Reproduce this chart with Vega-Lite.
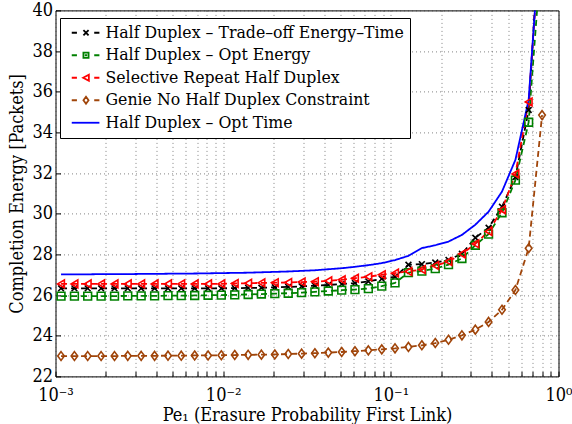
{
  "$schema": "https://vega.github.io/schema/vega-lite/v6.json",
  "width": 503,
  "height": 366,
  "autosize": {"type": "none"},
  "padding": {"left": 55.5, "top": 10.4, "right": 13.5, "bottom": 47.6},
  "background": "white",
  "datasets": {
    "curves": [
      {"pe":0.001079,"energy":26.33,"scheme":"Half Duplex – Trade–off Energy–Time"},
      {"pe":0.001297,"energy":26.33,"scheme":"Half Duplex – Trade–off Energy–Time"},
      {"pe":0.001556,"energy":26.33,"scheme":"Half Duplex – Trade–off Energy–Time"},
      {"pe":0.001871,"energy":26.33,"scheme":"Half Duplex – Trade–off Energy–Time"},
      {"pe":0.002249,"energy":26.33,"scheme":"Half Duplex – Trade–off Energy–Time"},
      {"pe":0.002698,"energy":26.33,"scheme":"Half Duplex – Trade–off Energy–Time"},
      {"pe":0.003243,"energy":26.33,"scheme":"Half Duplex – Trade–off Energy–Time"},
      {"pe":0.003899,"energy":26.33,"scheme":"Half Duplex – Trade–off Energy–Time"},
      {"pe":0.004688,"energy":26.33,"scheme":"Half Duplex – Trade–off Energy–Time"},
      {"pe":0.005623,"energy":26.33,"scheme":"Half Duplex – Trade–off Energy–Time"},
      {"pe":0.006761,"energy":26.33,"scheme":"Half Duplex – Trade–off Energy–Time"},
      {"pe":0.008128,"energy":26.33,"scheme":"Half Duplex – Trade–off Energy–Time"},
      {"pe":0.00975,"energy":26.33,"scheme":"Half Duplex – Trade–off Energy–Time"},
      {"pe":0.011722,"energy":26.34,"scheme":"Half Duplex – Trade–off Energy–Time"},
      {"pe":0.014093,"energy":26.35,"scheme":"Half Duplex – Trade–off Energy–Time"},
      {"pe":0.016904,"energy":26.36,"scheme":"Half Duplex – Trade–off Energy–Time"},
      {"pe":0.020324,"energy":26.38,"scheme":"Half Duplex – Trade–off Energy–Time"},
      {"pe":0.024434,"energy":26.4,"scheme":"Half Duplex – Trade–off Energy–Time"},
      {"pe":0.029376,"energy":26.43,"scheme":"Half Duplex – Trade–off Energy–Time"},
      {"pe":0.035237,"energy":26.46,"scheme":"Half Duplex – Trade–off Energy–Time"},
      {"pe":0.042364,"energy":26.5,"scheme":"Half Duplex – Trade–off Energy–Time"},
      {"pe":0.050933,"energy":26.54,"scheme":"Half Duplex – Trade–off Energy–Time"},
      {"pe":0.061094,"energy":26.59,"scheme":"Half Duplex – Trade–off Energy–Time"},
      {"pe":0.073451,"energy":26.67,"scheme":"Half Duplex – Trade–off Energy–Time"},
      {"pe":0.088308,"energy":26.8,"scheme":"Half Duplex – Trade–off Energy–Time"},
      {"pe":0.105925,"energy":26.9,"scheme":"Half Duplex – Trade–off Energy–Time"},
      {"pe":0.12735,"energy":27.49,"scheme":"Half Duplex – Trade–off Energy–Time"},
      {"pe":0.153109,"energy":27.52,"scheme":"Half Duplex – Trade–off Energy–Time"},
      {"pe":0.184077,"energy":27.6,"scheme":"Half Duplex – Trade–off Energy–Time"},
      {"pe":0.2208,"energy":27.73,"scheme":"Half Duplex – Trade–off Energy–Time"},
      {"pe":0.265461,"energy":28.03,"scheme":"Half Duplex – Trade–off Energy–Time"},
      {"pe":0.319154,"energy":28.82,"scheme":"Half Duplex – Trade–off Energy–Time"},
      {"pe":0.382825,"energy":29.31,"scheme":"Half Duplex – Trade–off Energy–Time"},
      {"pe":0.460257,"energy":30.34,"scheme":"Half Duplex – Trade–off Energy–Time"},
      {"pe":0.55335,"energy":31.8,"scheme":"Half Duplex – Trade–off Energy–Time"},
      {"pe":0.663743,"energy":35.1,"scheme":"Half Duplex – Trade–off Energy–Time"},
      {"pe":0.797995,"energy":46,"scheme":"Half Duplex – Trade–off Energy–Time"},

      {"pe":0.001079,"energy":25.95,"scheme":"Half Duplex – Opt Energy"},
      {"pe":0.001297,"energy":25.95,"scheme":"Half Duplex – Opt Energy"},
      {"pe":0.001556,"energy":25.95,"scheme":"Half Duplex – Opt Energy"},
      {"pe":0.001871,"energy":25.95,"scheme":"Half Duplex – Opt Energy"},
      {"pe":0.002249,"energy":25.95,"scheme":"Half Duplex – Opt Energy"},
      {"pe":0.002698,"energy":25.96,"scheme":"Half Duplex – Opt Energy"},
      {"pe":0.003243,"energy":25.96,"scheme":"Half Duplex – Opt Energy"},
      {"pe":0.003899,"energy":25.96,"scheme":"Half Duplex – Opt Energy"},
      {"pe":0.004688,"energy":25.97,"scheme":"Half Duplex – Opt Energy"},
      {"pe":0.005623,"energy":25.97,"scheme":"Half Duplex – Opt Energy"},
      {"pe":0.006761,"energy":25.98,"scheme":"Half Duplex – Opt Energy"},
      {"pe":0.008128,"energy":25.99,"scheme":"Half Duplex – Opt Energy"},
      {"pe":0.00975,"energy":26.0,"scheme":"Half Duplex – Opt Energy"},
      {"pe":0.011722,"energy":26.01,"scheme":"Half Duplex – Opt Energy"},
      {"pe":0.014093,"energy":26.03,"scheme":"Half Duplex – Opt Energy"},
      {"pe":0.016904,"energy":26.05,"scheme":"Half Duplex – Opt Energy"},
      {"pe":0.020324,"energy":26.07,"scheme":"Half Duplex – Opt Energy"},
      {"pe":0.024434,"energy":26.09,"scheme":"Half Duplex – Opt Energy"},
      {"pe":0.029376,"energy":26.12,"scheme":"Half Duplex – Opt Energy"},
      {"pe":0.035237,"energy":26.16,"scheme":"Half Duplex – Opt Energy"},
      {"pe":0.042364,"energy":26.2,"scheme":"Half Duplex – Opt Energy"},
      {"pe":0.050933,"energy":26.24,"scheme":"Half Duplex – Opt Energy"},
      {"pe":0.061094,"energy":26.27,"scheme":"Half Duplex – Opt Energy"},
      {"pe":0.073451,"energy":26.32,"scheme":"Half Duplex – Opt Energy"},
      {"pe":0.088308,"energy":26.44,"scheme":"Half Duplex – Opt Energy"},
      {"pe":0.105925,"energy":26.6,"scheme":"Half Duplex – Opt Energy"},
      {"pe":0.12735,"energy":27.1,"scheme":"Half Duplex – Opt Energy"},
      {"pe":0.153109,"energy":27.18,"scheme":"Half Duplex – Opt Energy"},
      {"pe":0.184077,"energy":27.3,"scheme":"Half Duplex – Opt Energy"},
      {"pe":0.2208,"energy":27.5,"scheme":"Half Duplex – Opt Energy"},
      {"pe":0.265461,"energy":27.8,"scheme":"Half Duplex – Opt Energy"},
      {"pe":0.319154,"energy":28.45,"scheme":"Half Duplex – Opt Energy"},
      {"pe":0.382825,"energy":29.0,"scheme":"Half Duplex – Opt Energy"},
      {"pe":0.460257,"energy":30.05,"scheme":"Half Duplex – Opt Energy"},
      {"pe":0.55335,"energy":31.65,"scheme":"Half Duplex – Opt Energy"},
      {"pe":0.663743,"energy":34.5,"scheme":"Half Duplex – Opt Energy"},
      {"pe":0.797995,"energy":43.3,"scheme":"Half Duplex – Opt Energy"},

      {"pe":0.001079,"energy":26.55,"scheme":"Selective Repeat Half Duplex"},
      {"pe":0.001297,"energy":26.55,"scheme":"Selective Repeat Half Duplex"},
      {"pe":0.001556,"energy":26.55,"scheme":"Selective Repeat Half Duplex"},
      {"pe":0.001871,"energy":26.55,"scheme":"Selective Repeat Half Duplex"},
      {"pe":0.002249,"energy":26.55,"scheme":"Selective Repeat Half Duplex"},
      {"pe":0.002698,"energy":26.55,"scheme":"Selective Repeat Half Duplex"},
      {"pe":0.003243,"energy":26.55,"scheme":"Selective Repeat Half Duplex"},
      {"pe":0.003899,"energy":26.55,"scheme":"Selective Repeat Half Duplex"},
      {"pe":0.004688,"energy":26.55,"scheme":"Selective Repeat Half Duplex"},
      {"pe":0.005623,"energy":26.55,"scheme":"Selective Repeat Half Duplex"},
      {"pe":0.006761,"energy":26.55,"scheme":"Selective Repeat Half Duplex"},
      {"pe":0.008128,"energy":26.55,"scheme":"Selective Repeat Half Duplex"},
      {"pe":0.00975,"energy":26.55,"scheme":"Selective Repeat Half Duplex"},
      {"pe":0.011722,"energy":26.57,"scheme":"Selective Repeat Half Duplex"},
      {"pe":0.014093,"energy":26.58,"scheme":"Selective Repeat Half Duplex"},
      {"pe":0.016904,"energy":26.6,"scheme":"Selective Repeat Half Duplex"},
      {"pe":0.020324,"energy":26.61,"scheme":"Selective Repeat Half Duplex"},
      {"pe":0.024434,"energy":26.62,"scheme":"Selective Repeat Half Duplex"},
      {"pe":0.029376,"energy":26.64,"scheme":"Selective Repeat Half Duplex"},
      {"pe":0.035237,"energy":26.66,"scheme":"Selective Repeat Half Duplex"},
      {"pe":0.042364,"energy":26.7,"scheme":"Selective Repeat Half Duplex"},
      {"pe":0.050933,"energy":26.75,"scheme":"Selective Repeat Half Duplex"},
      {"pe":0.061094,"energy":26.83,"scheme":"Selective Repeat Half Duplex"},
      {"pe":0.073451,"energy":26.9,"scheme":"Selective Repeat Half Duplex"},
      {"pe":0.088308,"energy":27.0,"scheme":"Selective Repeat Half Duplex"},
      {"pe":0.105925,"energy":27.08,"scheme":"Selective Repeat Half Duplex"},
      {"pe":0.12735,"energy":27.16,"scheme":"Selective Repeat Half Duplex"},
      {"pe":0.153109,"energy":27.26,"scheme":"Selective Repeat Half Duplex"},
      {"pe":0.184077,"energy":27.45,"scheme":"Selective Repeat Half Duplex"},
      {"pe":0.2208,"energy":27.65,"scheme":"Selective Repeat Half Duplex"},
      {"pe":0.265461,"energy":28.02,"scheme":"Selective Repeat Half Duplex"},
      {"pe":0.319154,"energy":28.52,"scheme":"Selective Repeat Half Duplex"},
      {"pe":0.382825,"energy":29.13,"scheme":"Selective Repeat Half Duplex"},
      {"pe":0.460257,"energy":30.2,"scheme":"Selective Repeat Half Duplex"},
      {"pe":0.55335,"energy":31.96,"scheme":"Selective Repeat Half Duplex"},
      {"pe":0.663743,"energy":35.5,"scheme":"Selective Repeat Half Duplex"},
      {"pe":0.797995,"energy":45,"scheme":"Selective Repeat Half Duplex"},

      {"pe":0.001079,"energy":23.0,"scheme":"Genie No Half Duplex Constraint"},
      {"pe":0.001297,"energy":23.0,"scheme":"Genie No Half Duplex Constraint"},
      {"pe":0.001556,"energy":23.0,"scheme":"Genie No Half Duplex Constraint"},
      {"pe":0.001871,"energy":23.0,"scheme":"Genie No Half Duplex Constraint"},
      {"pe":0.002249,"energy":23.0,"scheme":"Genie No Half Duplex Constraint"},
      {"pe":0.002698,"energy":23.01,"scheme":"Genie No Half Duplex Constraint"},
      {"pe":0.003243,"energy":23.01,"scheme":"Genie No Half Duplex Constraint"},
      {"pe":0.003899,"energy":23.01,"scheme":"Genie No Half Duplex Constraint"},
      {"pe":0.004688,"energy":23.02,"scheme":"Genie No Half Duplex Constraint"},
      {"pe":0.005623,"energy":23.02,"scheme":"Genie No Half Duplex Constraint"},
      {"pe":0.006761,"energy":23.03,"scheme":"Genie No Half Duplex Constraint"},
      {"pe":0.008128,"energy":23.03,"scheme":"Genie No Half Duplex Constraint"},
      {"pe":0.00975,"energy":23.04,"scheme":"Genie No Half Duplex Constraint"},
      {"pe":0.011722,"energy":23.05,"scheme":"Genie No Half Duplex Constraint"},
      {"pe":0.014093,"energy":23.06,"scheme":"Genie No Half Duplex Constraint"},
      {"pe":0.016904,"energy":23.07,"scheme":"Genie No Half Duplex Constraint"},
      {"pe":0.020324,"energy":23.08,"scheme":"Genie No Half Duplex Constraint"},
      {"pe":0.024434,"energy":23.1,"scheme":"Genie No Half Duplex Constraint"},
      {"pe":0.029376,"energy":23.12,"scheme":"Genie No Half Duplex Constraint"},
      {"pe":0.035237,"energy":23.14,"scheme":"Genie No Half Duplex Constraint"},
      {"pe":0.042364,"energy":23.17,"scheme":"Genie No Half Duplex Constraint"},
      {"pe":0.050933,"energy":23.2,"scheme":"Genie No Half Duplex Constraint"},
      {"pe":0.061094,"energy":23.24,"scheme":"Genie No Half Duplex Constraint"},
      {"pe":0.073451,"energy":23.28,"scheme":"Genie No Half Duplex Constraint"},
      {"pe":0.088308,"energy":23.33,"scheme":"Genie No Half Duplex Constraint"},
      {"pe":0.105925,"energy":23.38,"scheme":"Genie No Half Duplex Constraint"},
      {"pe":0.12735,"energy":23.45,"scheme":"Genie No Half Duplex Constraint"},
      {"pe":0.153109,"energy":23.53,"scheme":"Genie No Half Duplex Constraint"},
      {"pe":0.184077,"energy":23.64,"scheme":"Genie No Half Duplex Constraint"},
      {"pe":0.2208,"energy":23.8,"scheme":"Genie No Half Duplex Constraint"},
      {"pe":0.265461,"energy":24.02,"scheme":"Genie No Half Duplex Constraint"},
      {"pe":0.319154,"energy":24.3,"scheme":"Genie No Half Duplex Constraint"},
      {"pe":0.382825,"energy":24.68,"scheme":"Genie No Half Duplex Constraint"},
      {"pe":0.460257,"energy":25.28,"scheme":"Genie No Half Duplex Constraint"},
      {"pe":0.55335,"energy":26.25,"scheme":"Genie No Half Duplex Constraint"},
      {"pe":0.663743,"energy":28.3,"scheme":"Genie No Half Duplex Constraint"},
      {"pe":0.797995,"energy":34.85,"scheme":"Genie No Half Duplex Constraint"},

      {"pe":0.001079,"energy":27.02,"scheme":"Half Duplex – Opt Time"},
      {"pe":0.001297,"energy":27.02,"scheme":"Half Duplex – Opt Time"},
      {"pe":0.001556,"energy":27.02,"scheme":"Half Duplex – Opt Time"},
      {"pe":0.001871,"energy":27.03,"scheme":"Half Duplex – Opt Time"},
      {"pe":0.002249,"energy":27.03,"scheme":"Half Duplex – Opt Time"},
      {"pe":0.002698,"energy":27.03,"scheme":"Half Duplex – Opt Time"},
      {"pe":0.003243,"energy":27.04,"scheme":"Half Duplex – Opt Time"},
      {"pe":0.003899,"energy":27.04,"scheme":"Half Duplex – Opt Time"},
      {"pe":0.004688,"energy":27.05,"scheme":"Half Duplex – Opt Time"},
      {"pe":0.005623,"energy":27.05,"scheme":"Half Duplex – Opt Time"},
      {"pe":0.006761,"energy":27.06,"scheme":"Half Duplex – Opt Time"},
      {"pe":0.008128,"energy":27.07,"scheme":"Half Duplex – Opt Time"},
      {"pe":0.00975,"energy":27.08,"scheme":"Half Duplex – Opt Time"},
      {"pe":0.011722,"energy":27.09,"scheme":"Half Duplex – Opt Time"},
      {"pe":0.014093,"energy":27.1,"scheme":"Half Duplex – Opt Time"},
      {"pe":0.016904,"energy":27.12,"scheme":"Half Duplex – Opt Time"},
      {"pe":0.020324,"energy":27.14,"scheme":"Half Duplex – Opt Time"},
      {"pe":0.024434,"energy":27.16,"scheme":"Half Duplex – Opt Time"},
      {"pe":0.029376,"energy":27.19,"scheme":"Half Duplex – Opt Time"},
      {"pe":0.035237,"energy":27.22,"scheme":"Half Duplex – Opt Time"},
      {"pe":0.042364,"energy":27.27,"scheme":"Half Duplex – Opt Time"},
      {"pe":0.050933,"energy":27.32,"scheme":"Half Duplex – Opt Time"},
      {"pe":0.061094,"energy":27.39,"scheme":"Half Duplex – Opt Time"},
      {"pe":0.073451,"energy":27.47,"scheme":"Half Duplex – Opt Time"},
      {"pe":0.088308,"energy":27.57,"scheme":"Half Duplex – Opt Time"},
      {"pe":0.105925,"energy":27.72,"scheme":"Half Duplex – Opt Time"},
      {"pe":0.12735,"energy":27.93,"scheme":"Half Duplex – Opt Time"},
      {"pe":0.153109,"energy":28.31,"scheme":"Half Duplex – Opt Time"},
      {"pe":0.184077,"energy":28.45,"scheme":"Half Duplex – Opt Time"},
      {"pe":0.2208,"energy":28.63,"scheme":"Half Duplex – Opt Time"},
      {"pe":0.265461,"energy":28.96,"scheme":"Half Duplex – Opt Time"},
      {"pe":0.319154,"energy":29.46,"scheme":"Half Duplex – Opt Time"},
      {"pe":0.382825,"energy":30.1,"scheme":"Half Duplex – Opt Time"},
      {"pe":0.460257,"energy":31.09,"scheme":"Half Duplex – Opt Time"},
      {"pe":0.55335,"energy":32.65,"scheme":"Half Duplex – Opt Time"},
      {"pe":0.663743,"energy":35.6,"scheme":"Half Duplex – Opt Time"},
      {"pe":0.797995,"energy":45,"scheme":"Half Duplex – Opt Time"}
    ]
  },
  "data": {"name": "curves"},
  "encoding": {
    "x": {
      "field": "pe", "type": "quantitative",
      "scale": {"type": "log", "domain": [0.001, 1], "nice": false},
      "axis": {
        "title": "Pe₁ (Erasure Probability First Link)",
        "values": [0.001,0.002,0.003,0.004,0.005,0.006,0.007,0.008,0.009,0.01,0.02,0.03,0.04,0.05,0.06,0.07,0.08,0.09,0.1,0.2,0.3,0.4,0.5,0.6,0.7,0.8,0.9,1],
        "labelExpr": "datum.value == 0.001 ? '10⁻³' : datum.value == 0.01 ? '10⁻²' : datum.value == 0.1 ? '10⁻¹' : datum.value == 1 ? '10⁰' : ''",
        "labelOverlap": false,
        "labelFlush": false,
        "labelPadding": 15,
        "titlePadding": 2
      }
    },
    "y": {
      "field": "energy", "type": "quantitative",
      "scale": {"domain": [22, 40], "nice": false, "zero": false},
      "axis": {
        "title": "Completion Energy [Packets]",
        "values": [22,24,26,28,30,32,34,36,38,40],
        "labelPadding": 8,
        "titlePadding": 5
      }
    }
  },
  "layer": [
    {
      "mark": {"type": "line", "clip": true, "strokeWidth": 1.8},
      "encoding": {
        "color": {
          "field": "scheme", "type": "nominal",
          "scale": {
            "domain": ["Half Duplex – Trade–off Energy–Time","Half Duplex – Opt Energy","Selective Repeat Half Duplex","Genie No Half Duplex Constraint","Half Duplex – Opt Time"],
            "range": ["#000000","#008000","#ff0000","#a0450a","#0000ff"]
          },
          "legend": null
        },
        "strokeDash": {
          "field": "scheme", "type": "nominal",
          "scale": {
            "domain": ["Half Duplex – Trade–off Energy–Time","Half Duplex – Opt Energy","Selective Repeat Half Duplex","Genie No Half Duplex Constraint","Half Duplex – Opt Time"],
            "range": [[6,4],[6,4],[6,4],[6,4],[1,0]]
          },
          "legend": null
        },
        "order": {"field": "pe", "type": "quantitative"}
      }
    },
    {
      "transform": [{"filter": "datum.scheme != 'Half Duplex – Opt Time'"}],
      "mark": {"type": "point", "clip": true, "filled": false, "strokeWidth": 1.6, "size": 60, "opacity": 1},
      "encoding": {
        "color": {
          "field": "scheme", "type": "nominal",
          "scale": {
            "domain": ["Half Duplex – Trade–off Energy–Time","Half Duplex – Opt Energy","Selective Repeat Half Duplex","Genie No Half Duplex Constraint","Half Duplex – Opt Time"],
            "range": ["#000000","#008000","#ff0000","#a0450a","#0000ff"]
          },
          "legend": null
        },
        "shape": {
          "field": "scheme", "type": "nominal",
          "scale": {
            "domain": ["Half Duplex – Trade–off Energy–Time","Half Duplex – Opt Energy","Selective Repeat Half Duplex","Genie No Half Duplex Constraint","Half Duplex – Opt Time"],
            "range": ["M-0.75,-0.75L0.75,0.75M-0.75,0.75L0.75,-0.75","square","triangle-left","M0,-1.15L0.85,0L0,1.15L-0.85,0Z","circle"]
          },
          "legend": null
        }
      }
    },
    {
      "transform": [{"filter": "datum.pe < 0.0011"}],
      "mark": {"type": "point", "filled": false, "opacity": 0, "size": 36, "strokeWidth": 1.6},
      "encoding": {
        "color": {
          "field": "scheme", "type": "nominal",
          "scale": {
            "domain": ["Half Duplex – Trade–off Energy–Time","Half Duplex – Opt Energy","Selective Repeat Half Duplex","Genie No Half Duplex Constraint","Half Duplex – Opt Time"],
            "range": ["#000000","#008000","#ff0000","#a0450a","#0000ff"]
          }
        },
        "shape": {
          "field": "scheme", "type": "nominal",
          "scale": {
            "domain": ["Half Duplex – Trade–off Energy–Time","Half Duplex – Opt Energy","Selective Repeat Half Duplex","Genie No Half Duplex Constraint","Half Duplex – Opt Time"],
            "range": [
              "M-1,0H0.73M2.89,-0.86L4.61,0.86M2.89,0.86L4.61,-0.86M6.49,0H8.22",
              "M-1,0H0.73M2.89,-0.86H4.61V0.86H2.89ZM3.35,0H4.15M6.49,0H8.22",
              "M-1,0H0.73M2.8,0L4.7,-1.03L4.7,1.03ZM6.49,0H8.22",
              "M-1,0H0.73M3.75,-1.15L4.6,0L3.75,1.15L2.9,0ZM6.49,0H8.22",
              "M-1,0H8.22"
            ]
          },
          "legend": {
            "title": null,
            "orient": "none",
            "legendX": 4.5,
            "legendY": 7.6,
            "padding": 6,
            "strokeColor": "black",
            "fillColor": "white",
            "cornerRadius": 0,
            "symbolSize": 36,
            "symbolStrokeWidth": 1.8,
            "symbolOpacity": 1,
            "symbolFillColor": "transparent",
            "labelOffset": 22,
            "labelFont": "DejaVu Serif Condensed, DejaVu Serif",
            "labelFontSize": 17.5,
            "labelColor": "black",
            "labelLimit": 0,
            "rowPadding": 3.5
          }
        }
      }
    }
  ],
  "resolve": {"scale": {"color": "independent", "shape": "independent"}, "legend": {"color": "independent", "shape": "independent"}},
  "config": {
    "font": "DejaVu Serif Condensed, DejaVu Serif",
    "view": {"stroke": "black", "strokeWidth": 1},
    "axis": {
      "labelFont": "DejaVu Serif Condensed, DejaVu Serif",
      "titleFont": "DejaVu Serif Condensed, DejaVu Serif",
      "labelFontSize": 18,
      "titleFontSize": 18,
      "titleFontWeight": "normal",
      "labelColor": "black",
      "titleColor": "black",
      "domain": false,
      "tickColor": "black",
      "tickSize": -5,
      "grid": true,
      "gridColor": "#333333",
      "gridDash": [1, 3],
      "gridOpacity": 0.6,
      "gridWidth": 1
    }
  }
}
